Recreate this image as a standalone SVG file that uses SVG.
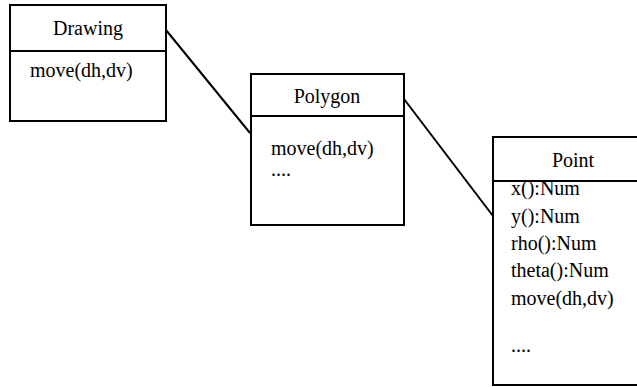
<svg xmlns="http://www.w3.org/2000/svg" width="637" height="387" viewBox="0 0 637 387">
  <style>
    .box { fill: #ffffff; stroke: #000000; stroke-width: 2; }
    .rule { stroke: #000000; stroke-width: 2; }
    .wire { stroke: #000000; stroke-width: 2; fill: none; }
    .lbl { font-family: 'Liberation Serif', 'Times New Roman', serif; font-size: 20px; fill: #000000; }
    .title { text-anchor: middle; }
  </style>
  <rect width="637" height="387" fill="#ffffff"/>

  <g id="connectors">
    <line class="wire" x1="166" y1="30" x2="250" y2="133"/>
    <line class="wire" x1="404" y1="99" x2="493" y2="216"/>
  </g>

  <g id="drawing" class="lbl">
    <rect class="box" x="10" y="5" width="156" height="116"/>
    <line class="rule" x1="10" y1="51" x2="166" y2="51"/>
    <text class="title" x="88" y="35">Drawing</text>
    <text x="30" y="77">move(dh,dv)</text>
  </g>

  <g id="polygon" class="lbl">
    <rect class="box" x="251" y="74" width="153" height="151"/>
    <line class="rule" x1="251" y1="116" x2="404" y2="116"/>
    <text class="title" x="327" y="103">Polygon</text>
    <text x="271" y="155">move(dh,dv)</text>
    <text x="271" y="176">....</text>
  </g>

  <g id="point" class="lbl">
    <rect class="box" x="493" y="137" width="160" height="248"/>
    <line class="rule" x1="493" y1="181" x2="653" y2="181"/>
    <text class="title" x="573" y="167">Point</text>
    <text x="511" y="195">x():Num</text>
    <text x="511" y="223">y():Num</text>
    <text x="511" y="250">rho():Num</text>
    <text x="511" y="277">theta():Num</text>
    <text x="511" y="305">move(dh,dv)</text>
    <text x="511" y="352">....</text>
  </g>
</svg>
